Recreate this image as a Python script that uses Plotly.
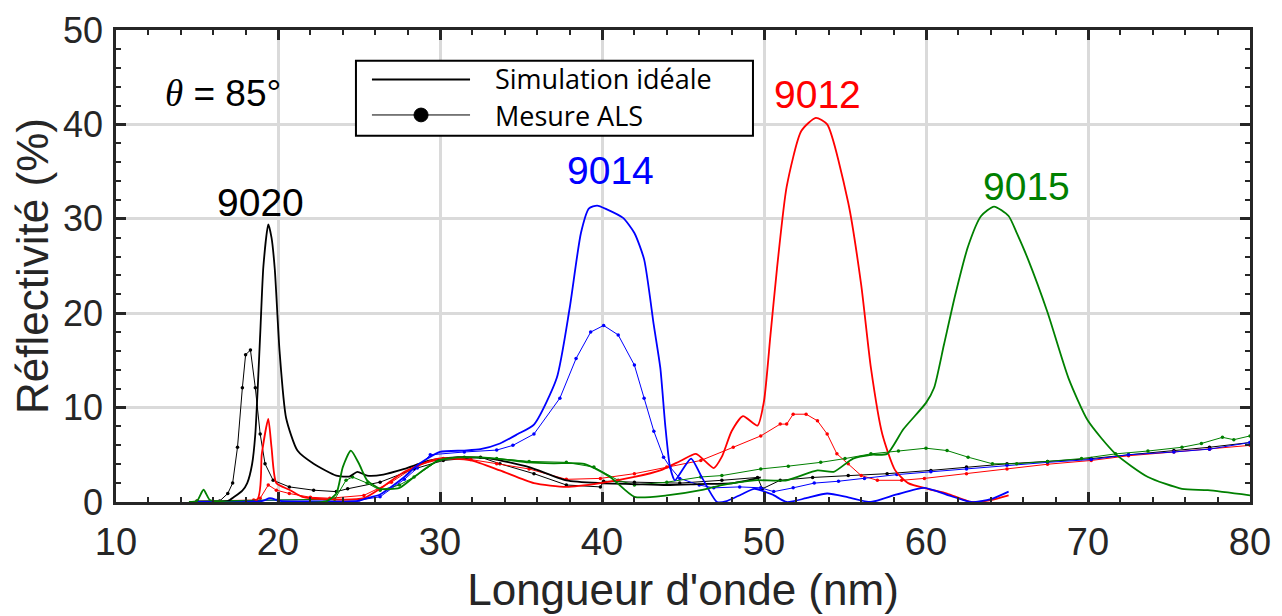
import plotly.graph_objects as go

# %% data (wavelength nm, reflectivity %)
sim_9020_x = [16.4, 16.9, 17.3, 17.8, 18.1, 18.4, 18.6, 18.9, 19.1, 19.4, 19.6, 19.8, 20.1, 20.5, 21.2,
              22.2, 23.6, 24.4, 24.9, 25.5, 26.5, 27.8, 29.4, 31.1, 33.1, 35.5, 37.8, 39.9, 42.0, 44.0,
              46.0, 48.1, 49.8]
sim_9020_y = [0.0, 0.1, 0.55, 1.2, 2.0, 4.0, 7.2, 17.7, 25.0, 29.4, 28.0, 24.7, 15.9, 8.9, 5.45,
              4.05, 2.8, 2.7, 3.2, 2.8, 2.9, 3.5, 4.4, 4.75, 4.6, 3.7, 2.3, 2.0, 1.9, 1.8,
              1.9, 2.0, 2.6]

meas_9020_x = [16.4, 16.9, 17.2, 17.5, 17.8, 18.0, 18.3, 18.6, 18.9, 19.2, 19.7, 20.7, 22.2, 23.6, 24.3,
               26.3, 28.4, 30.2, 32.5, 33.7, 35.8, 37.8, 39.9, 40.1, 42.0, 44.8, 47.4, 49.6, 49.9, 51.0,
               53.0, 55.2, 57.6, 60.3, 62.5, 65.0, 67.5, 70.2, 72.5, 75.3, 77.5, 80.0]
meas_9020_y = [0.1, 0.9, 2.0, 5.8, 12.1, 15.6, 16.1, 12.1, 7.2, 4.05, 2.3, 1.6, 1.25, 1.1, 1.4,
               2.1, 3.5, 4.4, 4.75, 4.05, 3.0, 1.8, 1.6, 2.2, 2.1, 2.0, 2.3, 2.6, 1.4, 2.3,
               2.6, 2.8, 3.0, 3.35, 3.7, 4.05, 4.3, 4.6, 5.0, 5.45, 5.8, 6.3]

sim_9012_x = [15.0, 18.7, 19.0, 19.4, 19.6, 19.9, 20.7, 21.5, 23.0, 25.3, 26.3, 27.8, 29.9, 31.9, 33.7,
              35.8, 37.8, 39.9, 42.0, 43.6, 44.9, 45.8, 46.9, 47.4, 48.0, 48.7, 49.6, 50.0, 50.4, 50.8,
              51.4, 52.3, 53.2, 53.9, 55.2, 56.0, 56.6, 57.3, 58.1, 58.9, 60.1, 61.3, 62.8, 64.0, 65.1]
sim_9012_y = [0.0, 0.2, 5.1, 8.8, 5.8, 2.0, 1.3, 0.55, 0.3, 0.4, 1.4, 3.2, 4.6, 4.4, 3.35,
              2.0, 1.6, 2.0, 2.65, 3.35, 4.4, 5.1, 3.6, 4.8, 7.5, 9.1, 8.1, 10.7, 17.7, 24.7,
              33.4, 39.3, 40.7, 40.0, 31.7, 23.0, 14.2, 7.2, 3.35, 2.0, 1.4, 0.9, 0.0, 0.2, 0.7]

meas_9012_x = [15.0, 18.5, 18.9, 19.4, 19.9, 20.7, 22.0, 23.2, 25.3, 27.0, 28.6, 30.2, 31.9, 33.5, 35.5,
               37.8, 39.9, 42.0, 44.0, 46.1, 48.1, 49.8, 51.0, 51.4, 51.8, 52.6, 53.3, 53.9, 54.5, 55.2,
               56.0, 57.0, 58.5, 59.9, 62.5, 65.0, 67.5, 70.2, 72.5, 75.3, 77.5, 80.0]
meas_9012_y = [0.1, 0.2, 0.4, 1.8, 1.25, 0.9, 0.5, 0.4, 0.7, 2.1, 3.9, 4.6, 4.5, 4.05, 3.5,
               2.4, 2.5, 3.0, 3.7, 4.4, 5.8, 7.0, 8.25, 8.25, 9.3, 9.3, 8.6, 7.2, 5.1, 4.05,
               2.8, 2.3, 2.3, 2.5, 3.0, 3.5, 4.0, 4.4, 4.9, 5.3, 5.6, 6.0]

sim_9014_x = [15.0, 19.0, 19.5, 20.2, 24.9, 25.7, 26.3, 27.8, 28.6, 30.0, 31.5, 32.5, 33.7, 34.8, 35.8,
              37.2, 38.0, 38.7, 39.2, 39.7, 40.3, 41.3, 42.0, 42.6, 43.2, 43.6, 43.9, 44.2, 44.5, 45.0,
              45.5, 46.2, 47.1, 47.7, 48.6, 49.4, 50.5, 51.4, 52.6, 53.9, 55.2, 56.6, 58.2, 59.9, 61.4,
              62.8, 64.0, 65.1]
sim_9014_y = [0.05, 0.1, 0.4, 0.1, 0.1, 0.5, 0.8, 2.65, 3.9, 5.3, 5.45, 5.6, 6.2, 7.2, 8.2,
              13.1, 20.5, 28.5, 31.1, 31.4, 31.0, 30.1, 28.5, 25.7, 18.7, 14.2, 8.2, 3.7, 2.3, 3.5,
              4.6, 2.5, 0.0, 0.1, 0.8, 1.4, 0.8, 0.0, 0.4, 0.9, 0.5, 0.0, 0.8, 1.5, 0.7,
              0.0, 0.3, 1.1]

meas_9014_x = [15.0, 20.0, 25.0, 26.3, 27.8, 28.6, 29.4, 31.5, 33.5, 34.5, 35.8, 37.4, 38.4, 39.3, 40.1,
               41.0, 42.0, 42.6, 43.2, 43.8, 44.2, 44.8, 46.0, 46.9, 48.5, 49.8, 50.6, 51.8, 53.1, 54.6,
               56.2, 58.2, 60.3, 62.5, 65.0, 67.5, 70.2, 72.5, 75.3, 77.5, 80.0]
meas_9014_y = [0.05, 0.2, 0.2, 0.55, 2.4, 3.6, 5.0, 5.3, 5.5, 6.0, 7.2, 11.0, 15.2, 18.0, 18.7,
               17.7, 14.5, 11.0, 7.5, 4.75, 3.7, 2.5, 1.8, 1.5, 1.6, 1.5, 1.1, 1.5, 2.0, 2.2,
               2.5, 2.9, 3.2, 3.5, 3.9, 4.2, 4.5, 5.0, 5.3, 5.6, 6.3]

sim_9015_x = [14.5, 15.0, 15.4, 15.8, 16.5, 23.0, 23.6, 24.0, 24.5, 25.0, 25.5, 26.3, 27.5, 28.4, 29.9,
              31.5, 33.5, 35.5, 37.0, 38.9, 40.5, 42.0, 44.0, 46.1, 47.4, 49.4, 51.4, 53.3, 54.3, 55.5,
              56.6, 57.6, 58.6, 60.0, 60.5, 61.1, 61.8, 62.6, 63.4, 64.2, 65.1, 65.6, 66.3, 67.5, 68.8,
              70.0, 71.7, 73.7, 75.8, 77.4, 80.0]
sim_9015_y = [0.0, 0.1, 1.3, 0.2, 0.0, 0.1, 0.9, 3.7, 5.45, 4.05, 2.3, 1.4, 1.5, 2.65, 4.4,
              4.75, 4.6, 4.2, 4.1, 4.05, 2.65, 0.55, 0.7, 1.25, 1.8, 2.3, 2.3, 3.35, 3.2, 4.6,
              5.0, 5.1, 7.7, 10.5, 12.1, 16.6, 21.9, 27.1, 30.3, 31.3, 30.3, 28.5, 25.7, 20.1, 13.1,
              8.6, 5.1, 2.65, 1.4, 1.25, 0.7]

meas_9015_x = [15.0, 20.0, 23.5, 24.2, 24.6, 25.5, 26.3, 27.5, 28.4, 29.9, 31.5, 33.5, 35.5, 37.8, 39.5,
               41.0, 42.0, 44.0, 46.1, 47.4, 49.8, 51.5, 53.5, 55.0, 56.6, 58.3, 60.0, 61.3, 62.6, 64.1,
               65.6, 67.5, 69.6, 71.7, 73.7, 75.8, 77.0, 78.3, 79.0, 80.0]
meas_9015_y = [0.1, 0.2, 0.3, 2.3, 2.65, 2.0, 1.25, 1.8, 2.65, 4.4, 4.75, 4.6, 4.3, 4.2, 3.7,
               2.3, 1.8, 2.1, 2.65, 2.8, 3.5, 3.8, 4.2, 4.6, 5.1, 5.4, 5.7, 5.45, 4.75, 4.05,
               4.05, 4.3, 4.6, 5.1, 5.4, 5.8, 6.2, 6.85, 6.6, 7.0]

samples = ["9020", "9012", "9014", "9015"]
colors = {"9020": "#000000", "9012": "#ff0000", "9014": "#0000ff", "9015": "#008000"}
sims = {"9020": (sim_9020_x, sim_9020_y), "9012": (sim_9012_x, sim_9012_y),
        "9014": (sim_9014_x, sim_9014_y), "9015": (sim_9015_x, sim_9015_y)}
meas = {"9020": (meas_9020_x, meas_9020_y), "9012": (meas_9012_x, meas_9012_y),
        "9014": (meas_9014_x, meas_9014_y), "9015": (meas_9015_x, meas_9015_y)}

# label positions (data coords)
label_x = {"9020": 18.9, "9012": 53.3, "9014": 40.5, "9015": 66.2}
label_y = {"9020": 31.7, "9012": 43.2, "9014": 35.1, "9015": 33.4}

FONT = "Liberation Sans, Arial, sans-serif"
AXCOL = "#262626"

# %%
fig = go.Figure()

for s in samples:
    x, y = meas[s]
    fig.add_trace(go.Scatter(
        x=x, y=y, mode="lines+markers", name=f"{s} mesure",
        line=dict(color=colors[s], width=1),
        marker=dict(color=colors[s], size=3.5),
        showlegend=False,
    ))
for s in samples:
    x, y = sims[s]
    fig.add_trace(go.Scatter(
        x=x, y=y, mode="lines", name=f"{s} simulation",
        line=dict(color=colors[s], width=1.8, shape="spline", smoothing=0.6),
        showlegend=False,
    ))

for s in samples:
    fig.add_annotation(x=label_x[s], y=label_y[s], text=s, showarrow=False,
                       xanchor="center", yanchor="middle",
                       font=dict(family=FONT, size=39, color=colors[s]))

fig.add_annotation(x=0.094, y=0.866, xref="paper", yref="paper",
                   text='<span style="font-family:Liberation Serif"><i>θ</i></span> = 85°',
                   showarrow=False, xanchor="center", yanchor="middle",
                   font=dict(family=FONT, size=37, color="black"))

# hand-drawn legend box, like the original
lx0, lx1, ly0, ly1 = 0.2116, 0.5617, 0.776, 0.935
fig.add_shape(type="rect", xref="paper", yref="paper", x0=lx0, x1=lx1, y0=ly0, y1=ly1,
              line=dict(color="black", width=2), fillcolor="white", layer="above")
fig.add_shape(type="line", xref="paper", yref="paper", x0=0.2257, x1=0.3122, y0=0.895, y1=0.895,
              line=dict(color="black", width=2), layer="above")
fig.add_shape(type="line", xref="paper", yref="paper", x0=0.2257, x1=0.3122, y0=0.820, y1=0.820,
              line=dict(color="black", width=1), layer="above")
fig.add_shape(type="circle", xref="paper", yref="paper", x0=0.2690 - 0.0062, x1=0.2690 + 0.0062,
              y0=0.820 - 0.0146, y1=0.820 + 0.0146, line=dict(color="black", width=1),
              fillcolor="black", layer="above")
for txt, yy in [("Simulation idéale", 0.897), ("Mesure ALS", 0.818)]:
    fig.add_annotation(x=0.3325, y=yy, xref="paper", yref="paper", text=txt,
                       showarrow=False, xanchor="left", yanchor="middle",
                       font=dict(family="Open Sans", size=27, color="black"))

axis_common = dict(
    showline=True, linecolor=AXCOL, linewidth=2.5, mirror="allticks",
    ticks="inside", ticklen=10, tickwidth=2.5, tickcolor=AXCOL,
    showgrid=True, gridcolor="#dadada", gridwidth=2.5,
    zeroline=False, automargin=False, ticklabeloverflow="allow",
)
minor_ticks = dict(dtick=2, ticks="inside", ticklen=5, tickwidth=2, tickcolor=AXCOL, showgrid=False)

fig.update_xaxes(range=[10, 80], dtick=10, minor=minor_ticks, ticklabelstandoff=5,
                 tickfont=dict(family=FONT, size=38, color=AXCOL),
                 title=dict(text="Longueur d'onde (nm)", font=dict(family=FONT, size=44, color=AXCOL),
                            standoff=16),
                 **axis_common)
fig.update_yaxes(range=[0, 50], dtick=10, minor=minor_ticks, ticklabelstandoff=3,
                 tickfont=dict(family=FONT, size=36, color=AXCOL),
                 title=dict(text="Réflectivité (%)", font=dict(family=FONT, size=44, color=AXCOL),
                            standoff=8),
                 **axis_common)

# the page adds an 8px body margin, so the figure is a bit smaller than the window
fig.update_layout(
    width=1274, height=606,
    margin=dict(l=108, r=32, t=22, b=112),
    plot_bgcolor="white", paper_bgcolor="white",
)

fig.write_html("out.html")
